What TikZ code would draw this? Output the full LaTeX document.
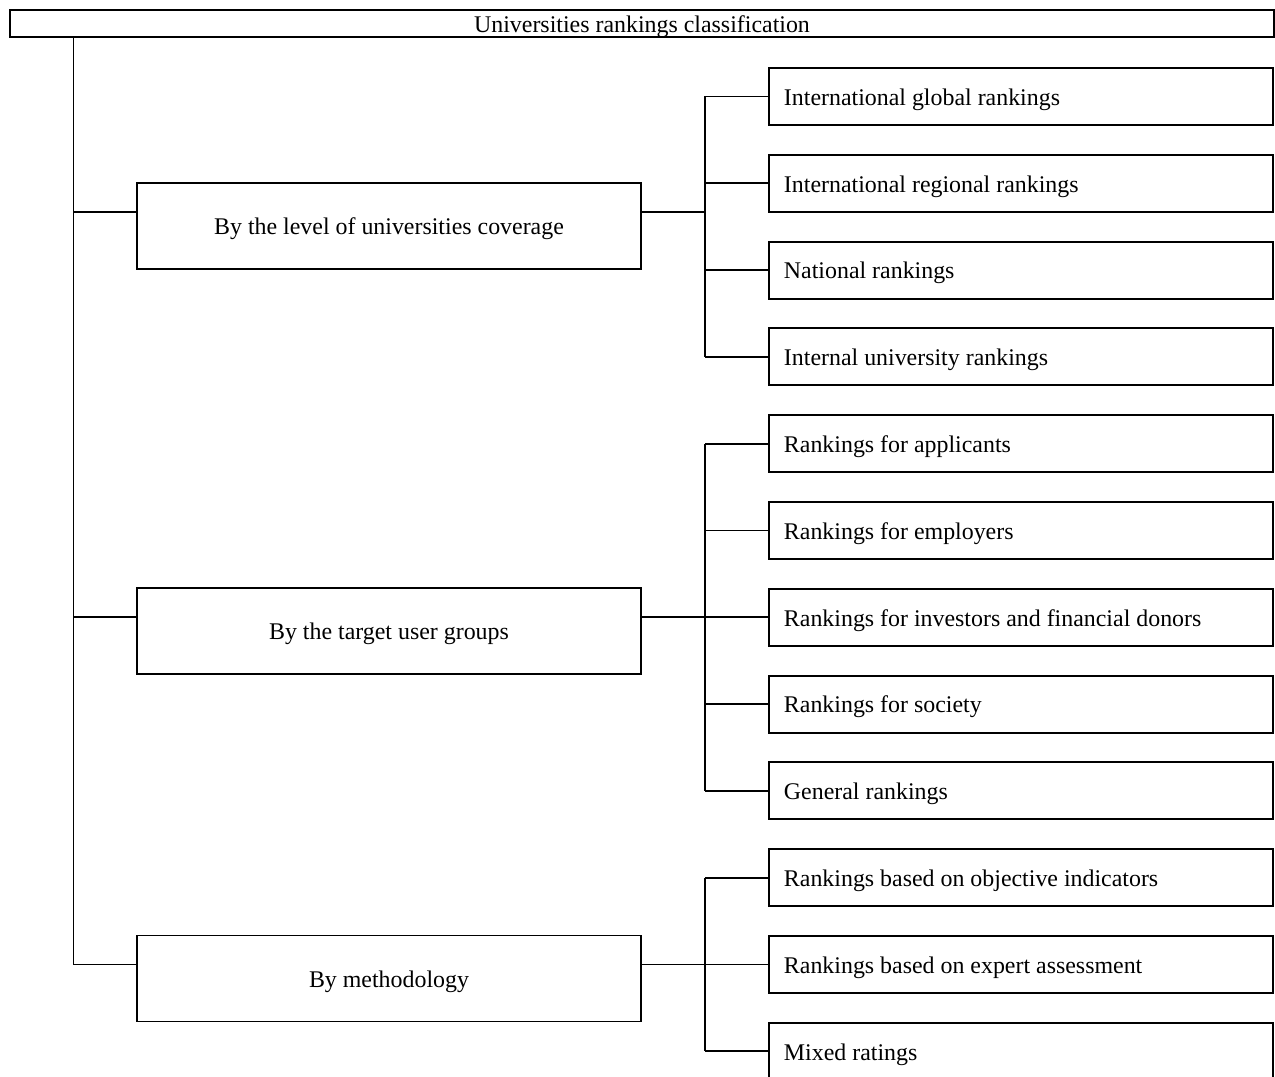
\documentclass[tikz,border=0pt]{standalone}
\usepackage{fontspec}
\setmainfont{Liberation Serif}
\usepackage{tikz}
\usetikzlibrary{positioning,calc}

\begin{document}
\begin{tikzpicture}[x=0.02cm,y=-0.02cm,
  line width=1.1pt,
  every node/.style={font=\fontsize{13.6}{16}\selectfont,text height=11pt,text depth=1pt},
  titlebox/.style={draw,minimum width=25.28cm,minimum height=0.54cm,inner sep=0pt},
  groupbox/.style={draw,minimum width=10.1cm,minimum height=1.72cm,inner sep=0pt},
  kindbox/.style={draw,anchor=west,minimum height=1.14cm,text width=9.48cm,
    inner xsep=0.3cm,inner ysep=0pt,align=left,
    execute at begin node={\spaceskip=0pt\xspaceskip=0pt}}]
  \useasboundingbox (0,0) rectangle (1275,1077);

  \node[titlebox] (title) at (642,23.5) {Universities rankings classification};

  % second level
  \node[groupbox] (cover) at (389,226) {By the level of universities coverage};
  \node[groupbox] (users) at (389,631) {By the target user groups};
  \node[groupbox] (method) at (389,978.5) {By methodology};

  % third level
  \node[kindbox] (glob) at (768,96.5) {International global rankings};
  \node[kindbox] (regio) at (768,183.3) {International regional rankings};
  \node[kindbox] (natio) at (768,270.1) {National rankings};
  \node[kindbox] (inter) at (768,356.9) {Internal university rankings};
  \node[kindbox] (appl) at (768,443.7) {Rankings for applicants};
  \node[kindbox] (empl) at (768,530.5) {Rankings for employers};
  \node[kindbox] (inves) at (768,617.3) {Rankings for investors and financial donors};
  \node[kindbox] (socie) at (768,704.1) {Rankings for society};
  \node[kindbox] (gener) at (768,790.9) {General rankings};
  \node[kindbox] (objec) at (768,877.7) {Rankings based on objective indicators};
  \node[kindbox] (exper) at (768,964.5) {Rankings based on expert assessment};
  \node[kindbox] (mixed) at (768,1051.3) {Mixed ratings};

  % trunk on the left
  \coordinate (trunk) at (73.5,37);
  \coordinate (bus) at (705,0);
  \coordinate (cl) at ([yshift=0.28cm]cover.west);
  \coordinate (ul) at ([yshift=0.28cm]users.west);
  \coordinate (ml) at ([yshift=0.28cm]method.west);
  \coordinate (cr) at ([yshift=0.28cm]cover.east);
  \coordinate (ur) at ([yshift=0.28cm]users.east);
  \coordinate (mr) at ([yshift=0.28cm]method.east);

  \draw (trunk) |- (ml);
  \draw (cl) -- (cl -| trunk);
  \draw (ul) -- (ul -| trunk);

  % buses on the right
  \draw (cr) -- (cr -| bus);
  \draw (glob.west -| bus) -- (inter.west -| bus);
  \draw (ur) -- (ur -| bus);
  \draw (appl.west -| bus) -- (gener.west -| bus);
  \draw (mr) -- (mr -| bus);
  \draw (objec.west -| bus) -- (mixed.west -| bus);
  \foreach \k in {glob,regio,natio,inter,appl,empl,inves,socie,gener,objec,exper,mixed}
    \draw (\k.west -| bus) -- (\k.west);
\end{tikzpicture}
\end{document}
